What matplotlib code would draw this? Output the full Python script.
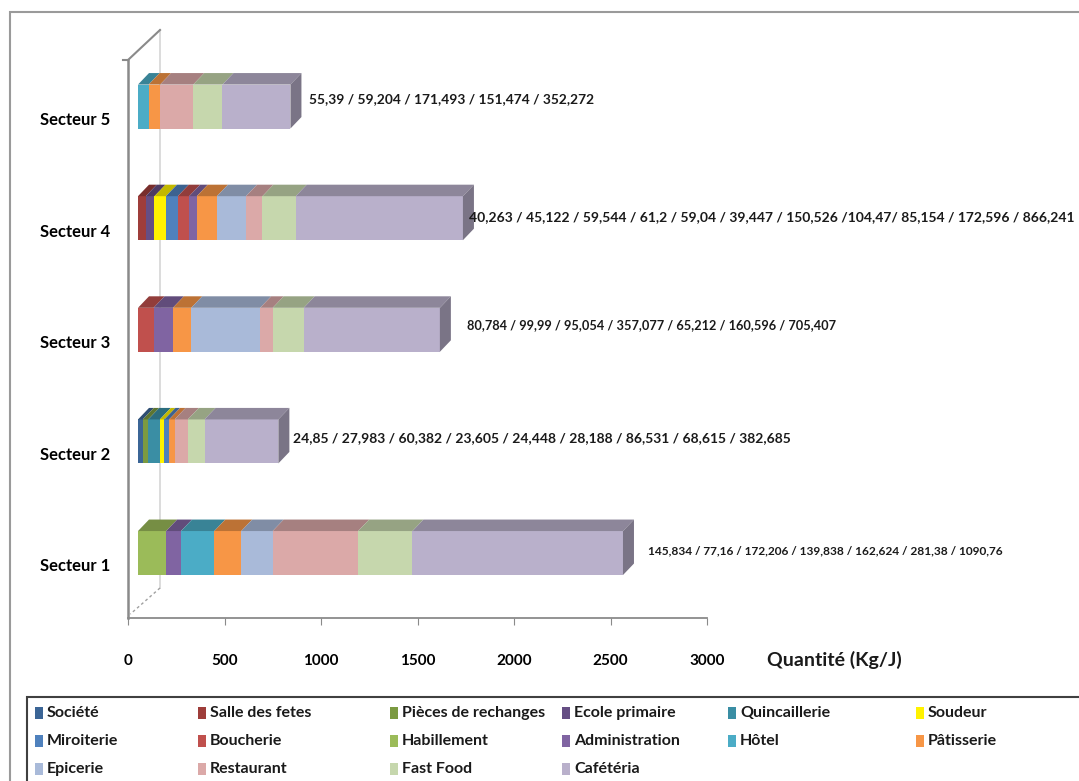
import numpy as np
import matplotlib
matplotlib.use("Agg")
import matplotlib.pyplot as plt
from matplotlib.patches import Polygon, Rectangle
import matplotlib.transforms as mtransforms
from matplotlib.lines import Line2D

# ---------------- data ----------------
sectors = ["Secteur 1", "Secteur 2", "Secteur 3", "Secteur 4", "Secteur 5"]
categories = ["Société", "Salle des fetes", "Pièces de rechanges", "Ecole primaire",
              "Quincaillerie", "Soudeur", "Miroiterie", "Boucherie", "Habillement",
              "Administration", "Hôtel", "Pâtisserie", "Epicerie", "Restaurant",
              "Fast Food", "Cafétéria"]
societe        = [0, 24.85, 0, 0, 0]
salle_fetes    = [0, 0, 0, 40.263, 0]
pieces         = [0, 27.983, 0, 0, 0]
ecole_primaire = [0, 0, 0, 45.122, 0]
quincaillerie  = [0, 60.382, 0, 0, 0]
soudeur        = [0, 23.605, 0, 59.544, 0]
miroiterie     = [0, 24.448, 0, 61.2, 0]
boucherie      = [0, 0, 80.784, 59.04, 0]
habillement    = [145.834, 0, 0, 0, 0]
administration = [77.16, 0, 99.99, 39.447, 0]
hotel          = [172.206, 0, 0, 0, 55.39]
patisserie     = [139.838, 28.188, 95.054, 104.47, 59.204]
epicerie       = [162.624, 0, 357.077, 150.526, 0]
restaurant     = [443.0, 68.615, 65.212, 85.154, 171.493]
fast_food      = [281.38, 86.531, 160.596, 172.596, 151.474]
cafeteria      = [1090.76, 382.685, 705.407, 866.241, 352.272]
series = [societe, salle_fetes, pieces, ecole_primaire, quincaillerie, soudeur,
          miroiterie, boucherie, habillement, administration, hotel, patisserie,
          epicerie, restaurant, fast_food, cafeteria]

value_labels = [
    "145,834 / 77,16 / 172,206 / 139,838 / 162,624 / 281,38 / 1090,76",
    "24,85 / 27,983 / 60,382 / 23,605 / 24,448 / 28,188 / 86,531 / 68,615 / 382,685",
    "80,784 / 99,99 / 95,054 / 357,077 / 65,212 / 160,596 / 705,407",
    "40,263 / 45,122 / 59,544 / 61,2 / 59,04 / 39,447 / 150,526 /104,47/ 85,154 / 172,596 / 866,241",
    "55,39 / 59,204 / 171,493 / 151,474 / 352,272",
]
x_ticks = [0, 500, 1000, 1500, 2000, 2500, 3000]

# ---------------- styles ----------------
colors = ["#3B6596", "#9E3D3A", "#7B9A41", "#654E84", "#3A8EA4", "#FFF200",
          "#4F81BD", "#C0504D", "#9BBB59", "#8064A2", "#4BACC6", "#F79646",
          "#A9BAD9", "#DBA9A8", "#C6D7AD", "#B9B0CB"]
FONT = ["Lato", "DejaVu Sans"]
plt.rcParams["font.family"] = FONT

W, H = 1079, 781
fig = plt.figure(figsize=(W / 100, H / 100), dpi=100)

def fx(px):
    return px / W

def fy(py):
    return 1 - py / H

ax = fig.add_axes([fx(128), fy(618), fx(707) - fx(128), fy(60) - fy(618)])
ax.set_xlim(0, 3000)
ax.set_ylim(-0.582, 4.417)

def shade(c, f):
    r, g, b = matplotlib.colors.to_rgb(c)
    return (r * f, g * f, b * f)

bar_h = 0.394
depth_x = 57.0     # data units (~11 px)
depth_y = 0.103    # data units (~11.5 px)
shift = mtransforms.ScaledTranslation(10 / 100, 0, fig.dpi_scale_trans)
tr = ax.transData + shift

ypos = np.arange(len(sectors))
left = np.zeros(len(sectors))
for vals, col in zip(series, colors):
    vals = np.asarray(vals, dtype=float)
    bars = ax.barh(ypos, vals, left=left, height=bar_h, color=col, linewidth=0)
    for b in bars:
        b.set_transform(tr)
    for i in range(len(sectors)):
        if vals[i] <= 0:
            continue
        x0, x1 = left[i], left[i] + vals[i]
        yt = ypos[i] + bar_h / 2
        top = Polygon([(x0, yt), (x1, yt), (x1 + depth_x, yt + depth_y),
                       (x0 + depth_x, yt + depth_y)], closed=True,
                      facecolor=shade(col, 0.76), edgecolor="none", transform=tr)
        ax.add_patch(top)
    left = left + vals

# right side faces and labels
label_dx = [25, 15, 27, 6, 19]
label_dy = [2, 3, 5, 1, 7]
label_size = [8.6, 10.0, 9.2, 10.0, 9.9]
for i in range(len(sectors)):
    xe = left[i]
    yb, yt = ypos[i] - bar_h / 2, ypos[i] + bar_h / 2
    side = Polygon([(xe, yb), (xe, yt), (xe + depth_x, yt + depth_y),
                    (xe + depth_x, yb + depth_y)], closed=True,
                   facecolor=shade(colors[-1], 0.66), edgecolor="none", transform=tr)
    ax.add_patch(side)
    ax.annotate(value_labels[i], xy=(xe, ypos[i]), xytext=(10 + label_dx[i], label_dy[i]),
                textcoords="offset pixels", ha="left", va="center",
                fontsize=label_size[i], fontweight="bold", color="#1a1a1a",
                annotation_clip=False)

# axes styling
for s in ["top", "right"]:
    ax.spines[s].set_visible(False)
ax.spines["left"].set_color("#8a8a8a")
ax.spines["left"].set_linewidth(1.8)
ax.spines["bottom"].set_color("#8a8a8a")
ax.spines["bottom"].set_linewidth(1.3)
ax.set_xticks(x_ticks)
ax.set_xticklabels([str(t) for t in x_ticks], fontsize=11, fontweight="bold")
ax.tick_params(axis="x", direction="out", length=5, color="#8a8a8a", pad=21)
ax.set_yticks(ypos - 0.107)
ax.set_yticklabels(sectors, fontsize=12, fontweight="bold")
ax.tick_params(axis="y", length=0, pad=13)
ax.patch.set_alpha(0)

# 3D wall edges
wx, wy = 32 / 579, 30 / 558
ax.add_line(Line2D([0, wx], [1, 1 + wy], transform=ax.transAxes, color="#8a8a8a",
                   lw=1.5, clip_on=False))
ax.add_line(Line2D([wx, wx], [1 + wy, wy + 0.0], transform=ax.transAxes, color="#d9d9d9",
                   lw=1.3, clip_on=False, zorder=0))
ax.add_line(Line2D([wx, 0.004], [wy, 0.007], transform=ax.transAxes, color="#a0a0a0",
                   lw=1.0, ls=(0, (2, 2)), clip_on=False, zorder=0))
ax.add_line(Line2D([-0.008, 0], [1, 1], transform=ax.transAxes, color="#8a8a8a",
                   lw=1.5, clip_on=False))

fig.text(fx(834), fy(660), "Quantité (Kg/J)", ha="center", va="center",
         fontsize=14, fontweight="bold", color="#1a1a1a")

# chart frame
fig.patches.append(Rectangle((fx(10), fy(795)), fx(1100) - fx(10), fy(12) - fy(795),
                             transform=fig.transFigure, fill=False,
                             edgecolor="#9a9a9a", lw=1.5))
# legend box
fig.patches.append(Rectangle((fx(27), fy(795)), fx(1100) - fx(27), fy(697) - fy(795),
                             transform=fig.transFigure, fill=False,
                             edgecolor="#404040", lw=1.5))
col_x = [35, 198, 390, 562, 728, 916]
row_y = [713, 741, 769]
ncol = 6
for k, (name, col) in enumerate(zip(categories, colors)):
    r, c = divmod(k, ncol)
    x, y = col_x[c], row_y[r]
    fig.patches.append(Rectangle((fx(x), fy(y + 6)), fx(8), 12 / H,
                                 transform=fig.transFigure, facecolor=col,
                                 edgecolor="none"))
    fig.text(fx(x + 12), fy(y), name, ha="left", va="center", fontsize=11.5,
             fontweight="bold", color="#1a1a1a")

fig.savefig("out.png", dpi=100)
